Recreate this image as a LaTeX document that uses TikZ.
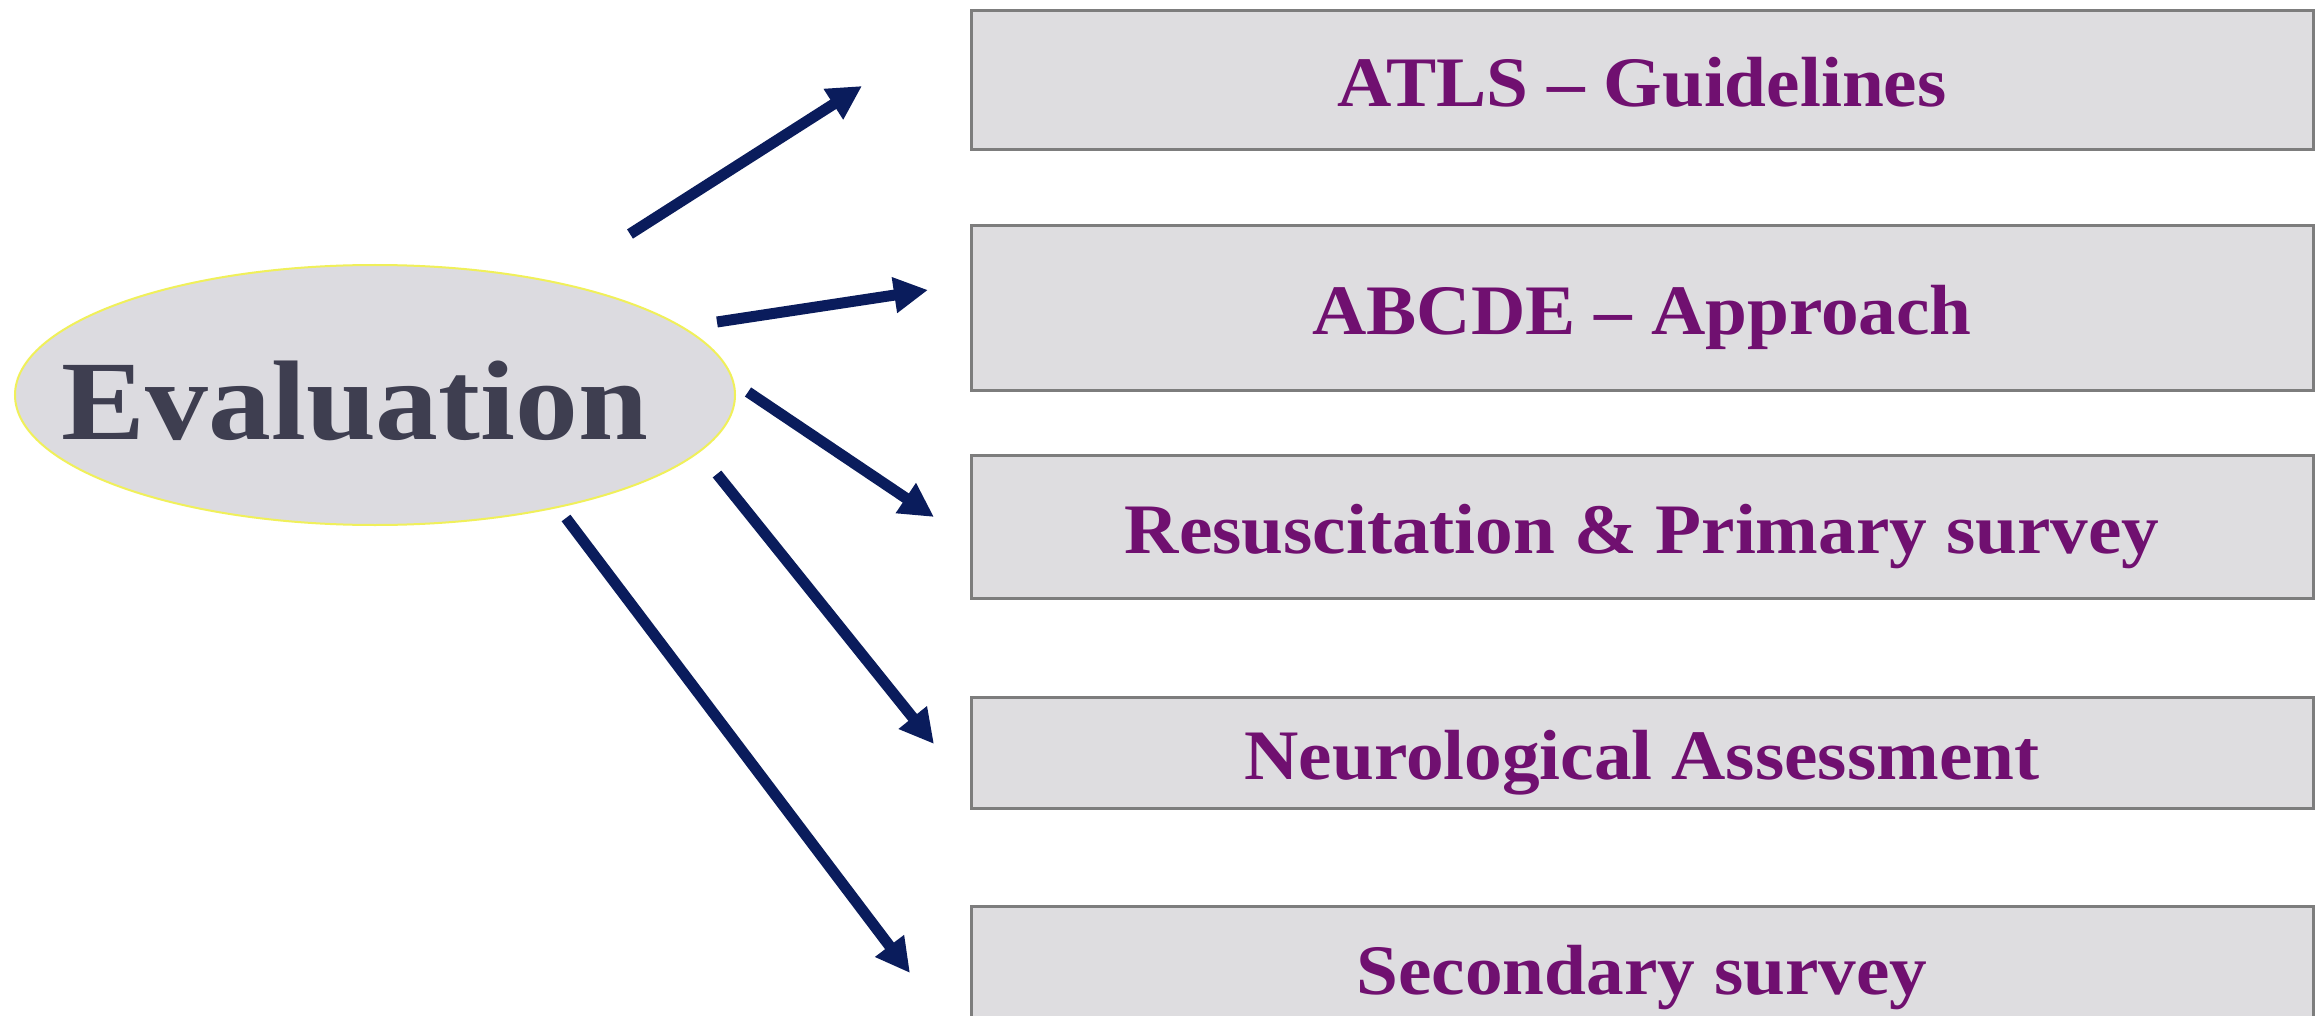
\documentclass[tikz,border=0pt]{standalone}
\usepackage{fontspec}
\setmainfont{Liberation Serif}
\usetikzlibrary{shapes.geometric,arrows.meta}
\definecolor{boxfill}{RGB}{222,221,224}
\definecolor{boxline}{RGB}{125,125,125}
\definecolor{boxtext}{RGB}{112,16,112}
\definecolor{arrowblue}{RGB}{10,28,92}
\definecolor{ellfill}{RGB}{220,219,224}
\definecolor{ellline}{RGB}{240,240,90}
\definecolor{evaltext}{RGB}{62,62,80}
\newcommand{\hstr}[2]{\scalebox{#1}[1]{#2}}
\begin{document}
\begin{tikzpicture}[x=0.5pt,y=0.5pt,
  itembox/.style={draw=boxline, line width=1.5pt, fill=boxfill, minimum width=671pt,
    inner sep=0pt, text=boxtext, font=\fontsize{35.5}{40}\selectfont\bfseries,
    text height=26.5pt, text depth=0pt},
  evalshape/.style={ellipse, draw=ellline, line width=1pt, fill=ellfill,
    minimum width=360pt, minimum height=130pt, inner sep=0pt},
  evallabel/.style={text=evaltext, font=\fontsize{56.6}{60}\selectfont\bfseries,
    inner sep=0pt, text height=37.5pt, text depth=0pt},
  pointer/.style={draw=arrowblue, line width=5.5pt, line cap=butt,
    -{Triangle[length=17pt,width=17pt]}}]
\useasboundingbox (0,0) rectangle (2318,-1016);
\fill[white] (0,0) rectangle (2318,-1016);

\node[evalshape] (eval) at (375,-395) {};
\node[evallabel] (evaltxt) at (355,-402) {\hstr{1.11}{Evaluation}};

\node[itembox, minimum height=69.5pt] (b1) at (1642,-80) {\hstr{1.06}{ATLS -- Guidelines}};
\node[itembox, minimum height=82.5pt] (b2) at (1642,-308) {\hstr{1.06}{ABCDE -- Approach}};
\node[itembox, minimum height=71.5pt] (b3) at (1642,-527) {\hstr{1.06}{Resuscitation \& Primary survey}};
\node[itembox, minimum height=55.5pt] (b4) at (1642,-753) {\hstr{1.06}{Neurological Assessment}};
\node[itembox, minimum height=62pt] (b5) at (1642,-968) {\hstr{1.06}{Secondary survey}};

\coordinate (t1) at (630,-234);  \coordinate (h1) at (862,-86);
\coordinate (t2) at (717,-322);  \coordinate (h2) at (928,-290);
\coordinate (t3) at (748,-392);  \coordinate (h3) at (934,-517);
\coordinate (t4) at (717,-474);  \coordinate (h4) at (934,-744);
\coordinate (t5) at (566,-518);  \coordinate (h5) at (910,-973);

\draw[pointer] (t1) -- (h1);
\draw[pointer] (t2) -- (h2);
\draw[pointer] (t3) -- (h3);
\draw[pointer] (t4) -- (h4);
\draw[pointer] (t5) -- (h5);
\end{tikzpicture}
\end{document}
